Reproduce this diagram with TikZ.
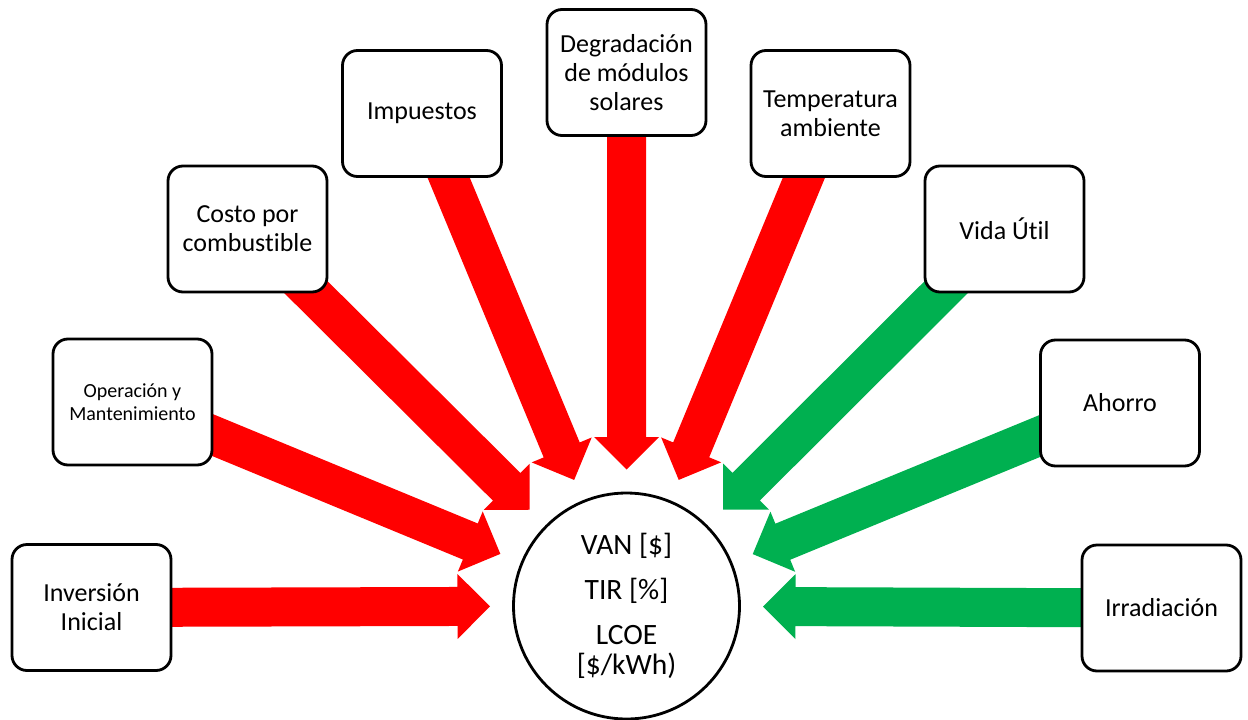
\documentclass[tikz,border=0pt]{standalone}
\usepackage{fontspec}
\setmainfont[Ligatures=NoCommon]{Carlito}
\usetikzlibrary{calc,backgrounds}
\definecolor{arrred}{RGB}{255,0,0}
\definecolor{arrgreen}{RGB}{0,176,80}
\newcommand{\bigarrow}[3]{%
  \path ($(#3)!169pt!(#2)$) coordinate (hb) ($(#3)!136.5pt!(#2)$) coordinate (tp);
  \fill[#1] ($(#2)!19.5pt!90:(#3)$) -- ($(hb)!19.5pt!90:(#3)$) -- ($(hb)!32.5pt!90:(#3)$) -- (tp)
    -- ($(hb)!32.5pt!-90:(#3)$) -- ($(hb)!19.5pt!-90:(#3)$) -- ($(#2)!19.5pt!-90:(#3)$) -- cycle;
}
\tikzset{
  fbox/.style={draw, line width=2.8pt, rounded corners=15pt, fill=white,
    minimum width=159pt, minimum height=126pt, align=center, inner sep=0pt,
    font=\fontsize{26}{29}\selectfont},
  result/.style={circle, draw, line width=2.8pt, fill=white, minimum size=226pt,
    inner sep=0pt, align=center, font=\fontsize{29.5}{30}\selectfont}
}
\begin{document}
\begin{tikzpicture}[x=1pt,y=-1pt]
\useasboundingbox (0,0) rectangle (1248,720);
\node[result] (res) at (626.5,606) {VAN [\$]\\[15pt]TIR [\%]\\[15pt]LCOE\\{[}\$/kWh)};
\node[fbox] (inv) at (91.5,607.5) {Inversión\\Inicial};
\node[fbox, font=\fontsize{20}{23}\selectfont] (oym) at (132.5,402) {Operación y\\Mantenimiento};
\node[fbox] (cos) at (247.5,229) {Costo por\\combustible};
\node[fbox] (imp) at (422,113.5) {Impuestos};
\node[fbox] (deg) at (626.5,72.5) {Degradación\\de módulos\\solares};
\node[fbox] (tem) at (830.5,113.5) {Temperatura\\ambiente};
\node[fbox] (vid) at (1004.5,229) {Vida Útil};
\node[fbox] (aho) at (1120,403) {Ahorro};
\node[fbox] (irr) at (1161.5,608) {Irradiación};
\begin{scope}[on background layer]
\bigarrow{arrred}{inv}{res}
\bigarrow{arrred}{oym}{res}
\bigarrow{arrred}{cos}{res}
\bigarrow{arrred}{imp}{res}
\bigarrow{arrred}{deg}{res}
\bigarrow{arrred}{tem}{res}
\bigarrow{arrgreen}{vid}{res}
\bigarrow{arrgreen}{aho}{res}
\bigarrow{arrgreen}{irr}{res}
\end{scope}
\end{tikzpicture}
\end{document}
